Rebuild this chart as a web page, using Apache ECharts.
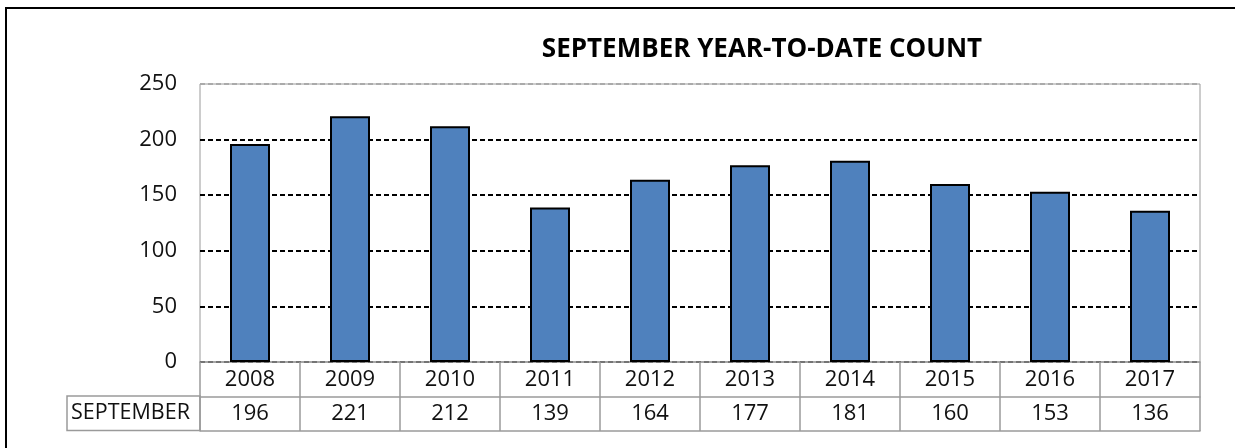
<!DOCTYPE html>
<html>
<head>
<meta charset="utf-8">
<script src="https://cdn.jsdelivr.net/npm/echarts@6/dist/echarts.min.js"></script>
<style>
  html, body { margin: 0; padding: 0; background: #fff; }
  #chart { width: 1235px; height: 448px; }
</style>
</head>
<body>
<div id="chart"></div>
<script>
// data
const years = ["2008", "2009", "2010", "2011", "2012", "2013", "2014", "2015", "2016", "2017"];
const counts = [196, 221, 212, 139, 164, 177, 181, 160, 153, 136];
const rowName = "SEPTEMBER";
const yTicks = { min: 0, max: 250, step: 50 };

const FONT = "'Open Sans', sans-serif";
const GRID_GREY = "#9a9a9a";

const chart = echarts.init(document.getElementById("chart"));

const option = {
  animation: false,
  title: {
    text: "SEPTEMBER YEAR-TO-DATE COUNT",
    left: 757, top: 32, textAlign: "center",
    textStyle: { fontFamily: FONT, fontSize: 26, fontWeight: "bold", color: "#000" }
  },
  grid: {
    left: 200, right: 35, top: 84, bottom: 86,
    show: true, borderColor: GRID_GREY, borderWidth: 1
  },
  xAxis: [
    {
      type: "category", data: years, position: "bottom",
      axisLine: { lineStyle: { color: GRID_GREY, width: 1.5 } },
      axisTick: { show: true, length: 69, lineStyle: { color: GRID_GREY, width: 1.5 } },
      axisLabel: {
        margin: 0, interval: 0,
        formatter: (v, i) => "{y|" + v + "}\n{v|" + counts[i] + "}",
        rich: {
          y: { fontFamily: FONT, fontSize: 22, color: "#111", lineHeight: 34.5 },
          v: { fontFamily: FONT, fontSize: 22, color: "#111", lineHeight: 34.5 }
        }
      }
    },
    {
      type: "category", data: years, position: "bottom", offset: 34.5,
      axisLine: { lineStyle: { color: GRID_GREY, width: 1.5 } },
      axisTick: { show: false }, axisLabel: { show: false }
    },
    {
      type: "category", data: years, position: "bottom", offset: 69,
      axisLine: { lineStyle: { color: GRID_GREY, width: 1.5 } },
      axisTick: { show: false }, axisLabel: { show: false }
    }
  ],
  yAxis: {
    type: "value", min: yTicks.min, max: yTicks.max, interval: yTicks.step,
    axisLine: { show: false }, axisTick: { show: false },
    axisLabel: { margin: 23, fontFamily: FONT, fontSize: 22, color: "#111" },
    splitLine: {
      lineStyle: {
        color: ["#000", "#000", "#000", "#000", "#000", "#aaa"],
        type: [5, 3], width: 1.8
      }
    }
  },
  series: [{
    type: "bar", data: counts, barWidth: "40%",
    itemStyle: { color: "#4f81bd", borderColor: "#000", borderWidth: 2 }
  }],
  graphic: [
    // outer chart frame
    {
      type: "rect", shape: { x: 6, y: 8, width: 1260, height: 470 },
      style: { fill: "none", stroke: "#000", lineWidth: 2 }, z: 100
    },
    // row header cell of data table
    {
      type: "rect", shape: { x: 67, y: 396, width: 133, height: 34.5 },
      style: { fill: "none", stroke: GRID_GREY, lineWidth: 1.5 }, z: 100
    },
    {
      type: "text", x: 71, y: 413,
      style: { text: rowName, fontFamily: FONT, fontSize: 21.5, fill: "#111", textVerticalAlign: "middle" }, z: 100
    }
  ]
};

chart.setOption(option);
window.addEventListener("resize", () => chart.resize());
</script>
</body>
</html>
